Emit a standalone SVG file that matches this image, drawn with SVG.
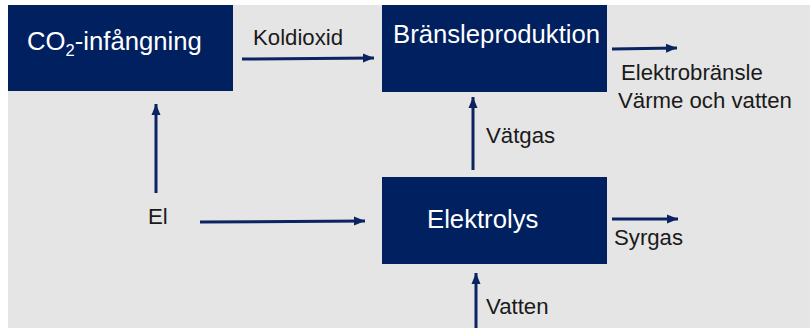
<svg xmlns="http://www.w3.org/2000/svg" width="810" height="328" viewBox="0 0 810 328">
<defs>
<style>
.box{fill:#002060}
.bt{fill:#ffffff;font-family:"Liberation Sans",Arial,sans-serif;font-size:25.7px}
.lt{fill:#1a1a1a;font-family:"Liberation Sans",Arial,sans-serif;font-size:22.2px}
.ln{stroke:#0b2360;stroke-width:3;fill:none;marker-end:url(#ah)}
</style>
<marker id="ah" markerUnits="userSpaceOnUse" markerWidth="12" markerHeight="12" viewBox="0 0 12 12" refX="11" refY="6" orient="auto">
<path d="M0,1.5 L11,6 L0,10.5 Z" fill="#0b2360"/>
</marker>
</defs>
<rect x="0" y="0" width="810" height="328" fill="#ffffff"/>
<rect x="8" y="5" width="802" height="323" fill="#e5e5e5"/>
<g id="co2">
<rect class="box" x="8" y="5" width="225" height="86"/>
<text class="bt" x="27" y="50">CO<tspan font-size="16.5" dy="6">2</tspan><tspan dy="-6">-infångning</tspan></text>
</g>
<g id="bransle">
<rect class="box" x="382" y="5" width="225" height="87"/>
<text class="bt" x="393" y="43">Bränsleproduktion</text>
</g>
<g id="elektrolys">
<rect class="box" x="382" y="177" width="225" height="87"/>
<text class="bt" x="427" y="228">Elektrolys</text>
</g>
<g id="labels">
<text class="lt" x="253" y="45">Koldioxid</text>
<text class="lt" x="621" y="80">Elektrobränsle</text>
<text class="lt" x="618" y="108">Värme och vatten</text>
<text class="lt" x="486" y="143">Vätgas</text>
<text class="lt" x="148" y="224">El</text>
<text class="lt" x="614" y="245">Syrgas</text>
<text class="lt" x="486" y="314">Vatten</text>
</g>
<g id="connectors">
<line class="ln" x1="242" y1="59" x2="374" y2="58"/>
<line class="ln" x1="612" y1="49" x2="677" y2="48"/>
<line class="ln" x1="473" y1="170" x2="473" y2="97"/>
<line class="ln" x1="156" y1="193" x2="156" y2="104"/>
<line class="ln" x1="200" y1="222" x2="365" y2="221"/>
<line class="ln" x1="612" y1="219" x2="678" y2="219"/>
<line class="ln" x1="476" y1="328" x2="476" y2="273"/>
</g>
</svg>
